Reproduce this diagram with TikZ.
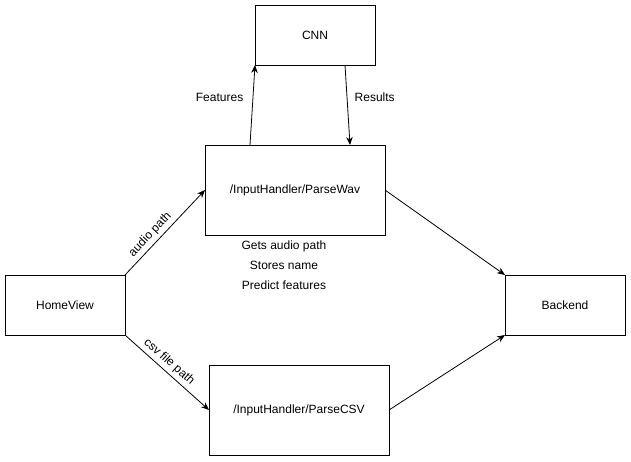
\documentclass[tikz,border=0pt]{standalone}
\usepackage{fontspec}
\setmainfont{Liberation Sans}
\usetikzlibrary{positioning, arrows.meta}

\begin{document}
\begin{tikzpicture}[
    x=1pt, y=-1pt,
    >={Stealth[length=8pt, width=6.5pt]},
    line width=0.8pt,
    every node/.style = {font=\fontsize{12}{20}\selectfont},
    box/.style = {draw, minimum width=120pt, minimum height=60pt, inner sep=0pt, outer sep=0pt},
    handler/.style = {box, minimum width=180pt, minimum height=90pt}
]
    \useasboundingbox (0,0) rectangle (631,461);

    \node [box] (cnn) at (315,35) {CNN};
    \node [handler] (wav) at (295,190) {/InputHandler/ParseWav};
    \node [box] (home) at (65,305) {HomeView};
    \node [handler] (csv) at (299,410) {/InputHandler/ParseCSV};
    \node [box] (backend) at (565,305) {Backend};
    \node [align=center, below=2pt of wav, xshift=-11pt] (notes) {Gets audio path\\Stores name\\Predict features};

    \draw[->] ([xshift=-45pt]wav.north) -- node[pos=0.6, left=6pt] {Features} (cnn.south west);
    \draw[->] ([xshift=30pt]cnn.south) -- node[pos=0.4, right=4pt] {Results} ([xshift=55pt]wav.north);

    \draw[->] (home.north east) -- node[pos=0.4, sloped, above] {audio path} (wav.west);
    \draw[->] (home.south east) -- node[pos=0.45, sloped, above] {csv file path} (csv.west);

    \draw[->] (wav.east) -- (backend.north west);
    \draw[->] (csv.east) -- (backend.south west);
\end{tikzpicture}
\end{document}
